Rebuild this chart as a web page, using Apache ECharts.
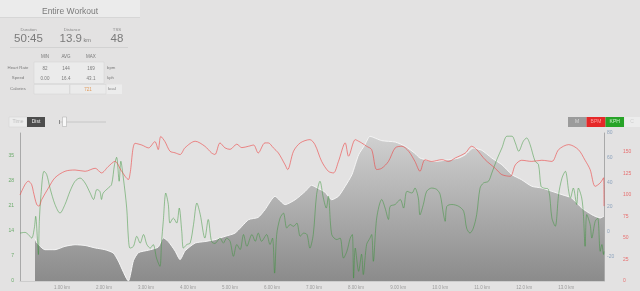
<!DOCTYPE html>
<html>
<head>
<meta charset="utf-8">
<script src="https://cdn.jsdelivr.net/npm/echarts@6/dist/echarts.min.js"></script>
<style>
html,body{margin:0;padding:0;background:#e3e2e2;}
#chart{width:640px;height:291px;}
</style>
</head>
<body>
<div id="chart"></div>
<script>
// ---- Data (distance in km) ----
const elevKm  = [0.357,0.40,0.595,0.833,1.07,1.31,1.55,1.79,2.02,2.22,2.34,2.58,2.70,2.82,3.06,3.29,3.41,3.53,3.69,3.81,3.93,4.17,4.40,4.64,4.88,5.12,5.44,5.67,5.83,6.07,6.31,6.55,6.79,6.94,7.10,7.26,7.42,7.58,7.74,7.90,8.06,8.21,8.33,8.61,8.93,9.17,9.40,9.52,9.88,10.20,10.44,10.60,10.79,10.99,11.23,11.47,11.71,11.94,12.18,12.42,12.66,12.90,13.13,13.37,13.61,13.81,13.90];
const elevM   = [-5,-9,-14.6,-14.6,-11.9,-10.6,-11.2,-13.2,-14.6,-17.3,-23.8,-40,-23.5,-17,-15,-12.5,-5,-8,-15.6,-22.7,-15.5,-9.2,-8,-6.5,-3.8,-1.1,9.7,11.6,17.8,28.7,21.9,25.9,32.7,37.6,35,32,25.9,28.7,36.8,46.2,62.4,70.5,77.3,73.8,72.7,69.2,63.5,59.7,57,58.3,59.7,62.4,67.8,66,59.7,54.3,46.2,42.1,36.8,35.4,32.7,30,27.3,19.2,13.8,11.1,12.5];

const hrKm  = [0,0.119,0.198,0.278,0.317,0.397,0.452,0.516,0.675,0.833,1.071,1.31,1.55,1.79,1.94,2.10,2.26,2.42,2.58,2.62,2.74,2.90,3.06,3.21,3.29,3.35,3.45,3.57,3.69,3.81,3.93,4.17,4.40,4.56,4.64,4.76,4.88,5.00,5.16,5.28,5.44,5.56,5.67,5.83,5.91,6.03,6.15,6.31,6.37,6.51,6.67,6.90,7.02,7.18,7.34,7.46,7.58,7.74,7.82,7.98,8.06,8.13,8.25,8.37,8.49,8.61,8.77,8.93,9.09,9.25,9.40,9.52,9.64,9.80,10.04,10.20,10.36,10.60,10.75,10.87,11.07,11.31,11.47,11.67,11.79,11.94,12.18,12.42,12.66,12.82,13.06,13.29,13.45,13.57,13.69,13.81,13.89,13.90];
const hrBpm = [100,112,116,112,104,89,87,94.5,108,120,127.5,129,127.5,131,125.6,133,139,127.5,118,125,160,158,154.7,162,152.7,168,162,150.8,149,147,155,162.4,156.6,148.8,147,160.5,154.7,153,159,155,156.6,158,148.8,160.5,160.5,154.7,148.8,135,129.5,150.8,160.5,164.3,158.5,139,127.5,125.6,139,160.5,145,164.3,162.4,160.5,156.6,152.7,129.5,131,139,154.7,156.6,150.8,139,127.5,141,139,141,139,143,148.8,156.6,152.7,141,131,123.6,121.7,135,140.3,139,140.3,139,152.7,158.5,152.7,140.3,129.5,110,114,120,87];

const spdKm  = [0,0.119,0.198,0.278,0.341,0.373,0.413,0.437,0.460,0.50,0.571,0.635,0.714,0.833,0.952,1.071,1.19,1.31,1.43,1.55,1.67,1.75,1.83,1.90,1.94,1.98,2.10,2.18,2.25,2.30,2.36,2.40,2.46,2.54,2.58,2.62,2.70,2.78,2.86,2.94,3.02,3.10,3.17,3.25,3.33,3.37,3.41,3.47,3.53,3.57,3.65,3.73,3.79,3.85,3.89,3.97,4.05,4.13,4.21,4.29,4.40,4.48,4.56,4.64,4.76,4.84,4.92,5.00,5.08,5.16,5.24,5.32,5.40,5.52,5.60,5.67,5.75,5.87,5.95,6.01,6.06,6.11,6.19,6.27,6.35,6.43,6.51,6.59,6.67,6.75,6.83,6.90,6.98,7.06,7.14,7.22,7.29,7.34,7.42,7.54,7.62,7.70,7.78,7.86,7.91,7.94,7.98,8.06,8.13,8.17,8.25,8.33,8.37,8.41,8.49,8.61,8.69,8.77,8.81,8.93,9.05,9.13,9.21,9.33,9.40,9.48,9.52,9.60,9.68,9.80,9.92,10.0,10.08,10.12,10.16,10.28,10.44,10.56,10.63,10.71,10.79,10.87,10.95,11.03,11.15,11.23,11.35,11.47,11.59,11.71,11.79,11.87,11.98,12.06,12.14,12.26,12.34,12.40,12.46,12.58,12.66,12.74,12.82,12.90,12.98,13.06,13.10,13.17,13.25,13.29,13.37,13.41,13.45,13.49,13.57,13.61,13.69,13.75,13.81,13.85,13.89,13.90];
const spdKph = [13.4,13.6,13,12,14.8,18.1,12,7.4,16.7,24.2,30.7,29.8,26,21.4,19,21.4,25.1,27.9,28.8,27.4,24.6,22.8,25.6,25.1,22.8,24.6,26,27,32.6,34.6,27.9,33.5,28.8,20.4,12,9.2,9.7,12.5,10.6,13,10.2,9.2,10.2,6.4,4.1,11,16.7,24.6,21.4,16.2,17.6,16.2,20.4,13.9,9.2,10.2,10.6,15.8,21.8,18.6,12,17.2,11,10.5,12,10.6,12,11.1,6.9,10.2,8.8,13,9.7,13,11.1,13.4,11.1,13,10.2,12,2.2,13,17.6,19,14.8,15.8,15.3,16.2,12.5,13.4,13,9.2,13,24.2,27.9,23.2,20.4,23.7,13,11.6,12,6.4,8.3,12,13,0.8,9.2,2.7,7.5,1.8,10.2,12,13,5.5,17.6,22.8,20.4,17.2,20.9,21.4,22.8,20.4,25.1,24.6,26,23.2,18.5,21.4,25.1,26,25.6,24.2,18.6,16.7,20.9,21.4,20.9,19.5,14.8,13.4,14.8,18.6,26,27.4,27.9,30.2,34,37.2,40.5,40.5,38.6,36.3,39.1,40,38.2,33.5,32.6,26.5,26,25.6,17.6,15.3,24.2,28.8,30.7,25.1,23.2,26,21.4,26,23.2,18.6,9.7,18.6,15.8,12,16.7,17.6,8.3,10.2,7.4,8.3];

const xTicks = [1,2,3,4,5,6,7,8,9,10,11,12,13];

const zip = (a, b) => a.map((v, i) => [v, b[i]]);

const chart = echarts.init(document.getElementById('chart'), null, {renderer: 'canvas'});
const FONT = 'Liberation Sans';

function txt(text, x, y, size, fill, align, extra) {
  return Object.assign({
    type: 'text', silent: true,
    style: {text: text, x: x, y: y, fontSize: size, fontFamily: FONT, fill: fill,
            align: align || 'center', verticalAlign: 'middle'}
  }, extra || {});
}
function box(x, y, w, h, fill, stroke) {
  return {type: 'rect', silent: true, shape: {x: x, y: y, width: w, height: h},
          style: {fill: fill, stroke: stroke || null, lineWidth: 0.5}};
}
function hline(x1, x2, y, stroke) {
  return {type: 'line', silent: true, shape: {x1: x1, y1: y, x2: x2, y2: y}, style: {stroke: stroke, lineWidth: 1}};
}

const graphics = [
  box(0, 0, 140, 17, '#ebebeb'),
  hline(0, 140, 17.5, '#d6d6d6'),
  txt('Entire Workout', 70, 11.5, 8.5, '#7a7a7a'),
  txt('Duration', 28.5, 30, 4.3, '#8a8a8a'),
  txt('50:45', 28.5, 38.5, 11.5, '#7a7a7a'),
  txt('Distance', 72, 30, 4.3, '#8a8a8a'),
  txt('13.9', 82, 38.5, 11.5, '#7a7a7a', 'right'),
  txt('km', 83.5, 40, 5.5, '#7a7a7a', 'left'),
  txt('TSS', 117, 30, 4.3, '#8a8a8a'),
  txt('48', 117, 38.5, 11.5, '#7a7a7a'),
  hline(10, 128, 47.5, '#d2d2d2'),
  txt('MIN', 45, 57, 4.5, '#7a7a7a'),
  txt('AVG', 66, 57, 4.5, '#7a7a7a'),
  txt('MAX', 91, 57, 4.5, '#7a7a7a'),
  box(34, 62, 70, 21.5, '#ebebeb', '#d3d3d3'),
  txt('Heart Rate', 18, 68.3, 4.3, '#7a7a7a'),
  txt('82', 45, 68.3, 4.5, '#7a7a7a'),
  txt('144', 66, 68.3, 4.5, '#7a7a7a'),
  txt('169', 91, 68.3, 4.5, '#7a7a7a'),
  txt('bpm', 107, 68.3, 4.3, '#7a7a7a', 'left'),
  txt('Speed', 18, 78.3, 4.3, '#7a7a7a'),
  txt('0.00', 45, 78.3, 4.5, '#7a7a7a'),
  txt('16.4', 66, 78.3, 4.5, '#7a7a7a'),
  txt('43.1', 91, 78.3, 4.5, '#7a7a7a'),
  txt('kph', 107, 78.3, 4.3, '#7a7a7a', 'left'),
  txt('Calories', 18, 89.3, 4.3, '#7a7a7a'),
  box(34, 84.5, 35.5, 9.5, '#ebebeb', '#d3d3d3'),
  box(70, 84.5, 36, 9.5, '#ebebeb', '#d3d3d3'),
  txt('721', 88, 89.3, 4.5, '#e09a5a'),
  box(106.5, 84.5, 15.5, 9.5, '#ececec'),
  txt('kcal', 108, 89.3, 4.3, '#7a7a7a', 'left'),
  // distance / time toggle
  box(9, 117, 18, 10, '#ececec', '#d0d0d0'),
  txt('Time', 18, 122, 5, '#bdbdbd'),
  box(27, 117, 18, 10, '#4d4d4d'),
  txt('Dist', 36, 122, 5, '#f2f2f2'),
  // slider
  hline(59, 106, 122, '#c6c6c6'),
  {type: 'line', silent: true, shape: {x1: 59.5, y1: 120, x2: 59.5, y2: 124}, style: {stroke: '#8a8a8a', lineWidth: 1}},
  box(62.5, 117, 4, 9.5, '#f8f8f8', '#a8a8a8'),
  // series toggles
  box(568, 117, 18.5, 10, '#9b9b9b'),
  txt('M', 577.2, 122, 5, '#d8d8d8'),
  box(586.5, 117, 19, 10, '#e52828'),
  txt('BPM', 596, 122, 5, '#ff9d9d'),
  box(605.5, 117, 18.5, 10, '#27a327'),
  txt('KPH', 614.7, 122, 5, '#c8f0c8'),
  box(624.5, 117, 16, 10, '#ececec'),
  txt('C', 632, 122, 5, '#cfcfcf')
];

const option = {
  animation: false,
  backgroundColor: '#e3e2e2',
  textStyle: {fontFamily: FONT},
  graphic: graphics,
  grid: {left: 20, right: 36, top: 133, bottom: 10, containLabel: false},
  xAxis: {
    type: 'value', min: 0, max: 13.9, interval: 1,
    axisLine: {show: true, lineStyle: {color: '#cdcdcd', width: 1}},
    axisTick: {show: false}, splitLine: {show: false},
    axisLabel: {
      fontSize: 4.5, color: '#9a9a9a', margin: 4, showMinLabel: false, showMaxLabel: false,
      formatter: v => xTicks.indexOf(Math.round(v)) >= 0 && Math.abs(v - Math.round(v)) < 1e-6
        ? (v < 10 ? v.toFixed(2) : v.toFixed(1)) + ' km' : ''
    }
  },
  yAxis: [
    {
      type: 'value', position: 'left', min: 0, max: 41.4, interval: 7,
      axisLine: {show: true, lineStyle: {color: '#a9a9a9', width: 1}},
      axisTick: {show: false}, splitLine: {show: false},
      axisLabel: {fontSize: 5, color: '#6aaa6a', margin: 6, showMaxLabel: false}
    },
    {
      type: 'value', position: 'right', min: -40, max: 80, interval: 20,
      axisLine: {show: true, lineStyle: {color: '#a9a9a9', width: 1}},
      axisTick: {show: false}, splitLine: {show: false},
      axisLabel: {fontSize: 5, color: '#8ea4be', margin: 3, showMinLabel: false}
    },
    {
      type: 'value', position: 'right', offset: 17, min: 0, max: 172, interval: 25,
      axisLine: {show: false}, axisTick: {show: false}, splitLine: {show: false},
      axisLabel: {fontSize: 5, color: '#e87070', margin: 2, showMaxLabel: false}
    }
  ],
  series: [
    {
      name: 'Elevation', type: 'line', yAxisIndex: 1, data: zip(elevKm, elevM),
      showSymbol: false, smooth: 0.2, z: 1,
      lineStyle: {color: '#f5f5f5', width: 1},
      areaStyle: {
        origin: 'start', opacity: 1,
        color: new echarts.graphic.LinearGradient(0, 0, 0, 1, [
          {offset: 0, color: '#d0d0d0'}, {offset: 1, color: '#8b8b8b'}
        ])
      }
    },
    {
      name: 'KPH', type: 'line', yAxisIndex: 0, data: zip(spdKm, spdKph),
      showSymbol: false, smooth: 0.3, z: 3,
      lineStyle: {color: 'rgba(50,145,50,0.6)', width: 0.8}
    },
    {
      name: 'BPM', type: 'line', yAxisIndex: 2, data: zip(hrKm, hrBpm),
      showSymbol: false, smooth: 0.3, z: 4,
      lineStyle: {color: 'rgba(238,62,62,0.72)', width: 0.8}
    }
  ]
};
chart.setOption(option);
</script>
</body>
</html>
